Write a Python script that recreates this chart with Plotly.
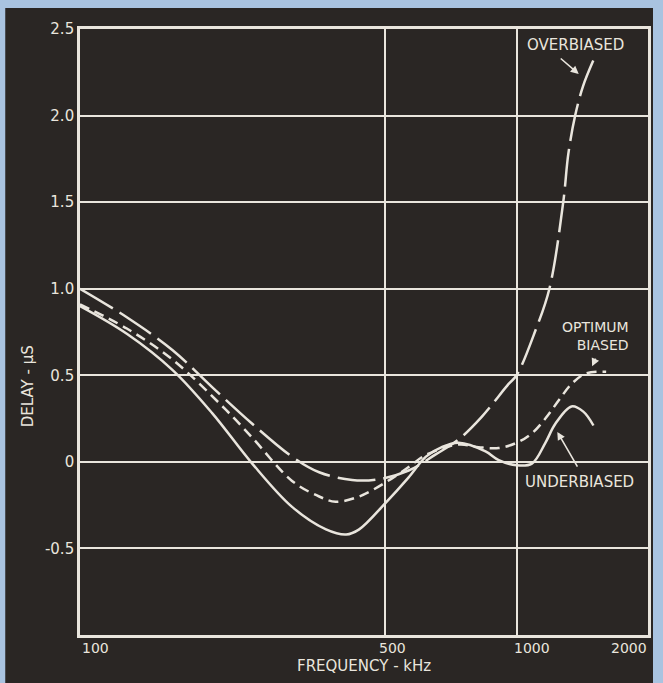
import math
import plotly.graph_objects as go

# ---------------- data ----------------
freq_under = [100, 128, 163, 201, 248, 306, 366, 407, 436, 500, 566, 620, 674, 737, 849, 910, 1000, 1084, 1164, 1227, 1336, 1422, 1500]
delay_under = [0.90, 0.74, 0.53, 0.28, -0.01, -0.26, -0.39, -0.42, -0.39, -0.24, -0.09, 0.03, 0.085, 0.11, 0.06, 0.01, -0.02, -0.01, 0.11, 0.22, 0.32, 0.29, 0.21]

freq_opt = [100, 128, 163, 216, 248, 306, 353, 385, 436, 500, 566, 620, 737, 819, 910, 1000, 1084, 1164, 1253, 1336, 1440, 1604]
delay_opt = [0.91, 0.77, 0.59, 0.30, 0.14, -0.11, -0.20, -0.23, -0.20, -0.12, -0.03, 0.04, 0.10, 0.085, 0.08, 0.11, 0.165, 0.25, 0.36, 0.45, 0.51, 0.52]

freq_over = [100, 128, 163, 201, 248, 306, 353, 420, 484, 566, 650, 737, 832, 959, 1000, 1105, 1189, 1279, 1314, 1362, 1420, 1500]
delay_over = [1.00, 0.835, 0.645, 0.43, 0.22, 0.03, -0.06, -0.105, -0.10, -0.05, 0.04, 0.13, 0.26, 0.45, 0.50, 0.76, 1.00, 1.50, 1.78, 2.00, 2.17, 2.32]

x_tick_vals = [100, 500, 1000, 2000]
x_tick_text = ["100", "500", "1000", "2000"]
y_tick_vals = [-0.5, 0, 0.5, 1.0, 1.5, 2.0, 2.5]
y_tick_text = ["-0.5", "0", "0.5", "1.0", "1.5", "2.0", "2.5"]

series_labels = ["UNDERBIASED", "OPTIMUM<br>BIASED", "OVERBIASED"]

# ---------------- style ----------------
FG = "#e9e5dd"
DARK = "#2a2624"
BLUE = "#a9c3e0"
FONT = "DejaVu Sans"

fig = go.Figure()
fig.add_trace(go.Scatter(x=freq_under, y=delay_under, mode="lines", name="UNDERBIASED",
                         line=dict(color=FG, width=2.5, shape="spline", smoothing=1.0)))
fig.add_trace(go.Scatter(x=freq_opt, y=delay_opt, mode="lines", name="OPTIMUM BIASED",
                         line=dict(color=FG, width=2.5, dash="10px,6px", shape="spline", smoothing=1.0)))
fig.add_trace(go.Scatter(x=freq_over, y=delay_over, mode="lines", name="OVERBIASED",
                         line=dict(color=FG, width=2.5, dash="38px,8px", shape="spline", smoothing=1.0)))

# dark panel behind plot
fig.add_shape(type="rect", xref="paper", yref="paper", x0=-0.1316, x1=1.0088, y0=-0.2, y1=1.0345,
              fillcolor=DARK, line=dict(width=0), layer="below")

annotations = []
# x tick labels
x_anchor = ["left", "center", "left", "right"]
x_shift = [0, 7, -5, 1]
for v, t, a, s in zip(x_tick_vals, x_tick_text, x_anchor, x_shift):
    annotations.append(dict(x=math.log10(v), y=0, xref="x", yref="paper", text=t, showarrow=False,
                            xanchor=a, yanchor="top", xshift=s, yshift=-3,
                            font=dict(family=FONT, size=14, color=FG)))
# axis titles
annotations.append(dict(x=0.5, y=0, xref="paper", yref="paper", text="FREQUENCY - kHz", showarrow=False,
                        xanchor="center", yanchor="middle", yshift=-31,
                        font=dict(family=FONT, size=15, color=FG)))
annotations.append(dict(x=-0.091, y=0.411, xref="paper", yref="paper", text="DELAY - μS", showarrow=False,
                        textangle=-90, xanchor="center", yanchor="middle",
                        font=dict(family=FONT, size=15, color=FG)))
# curve labels
annotations.append(dict(x=math.log10(1363), y=2.406, xref="x", yref="y", text=series_labels[2], showarrow=False,
                        xanchor="center", yanchor="middle", font=dict(family=FONT, size=15, color=FG)))
annotations.append(dict(x=math.log10(1830), y=0.725, xref="x", yref="y", text=series_labels[1], showarrow=False,
                        xanchor="right", yanchor="middle", align="right",
                        font=dict(family=FONT, size=14, color=FG)))
annotations.append(dict(x=math.log10(1392), y=-0.117, xref="x", yref="y", text=series_labels[0], showarrow=False,
                        xanchor="center", yanchor="middle", font=dict(family=FONT, size=15, color=FG)))
# pointer arrows
for (hx, hy, ax, ay) in [(1399, 2.233, -21, -18), (1483, 0.541, 5, -11), (1233, 0.183, 22, 38)]:
    annotations.append(dict(x=math.log10(hx), y=hy, xref="x", yref="y", text="", showarrow=True,
                            ax=ax, ay=ay, arrowhead=2, arrowsize=1, arrowwidth=1.6, arrowcolor=FG,
                            standoff=2))

fig.update_layout(
    width=663, height=683, autosize=False,
    margin=dict(l=80, r=13, t=29, b=48, pad=0),
    paper_bgcolor=BLUE, plot_bgcolor=DARK,
    showlegend=False,
    font=dict(family=FONT, color=FG, size=15),
    annotations=annotations,
)
fig.update_xaxes(type="log", range=[math.log10(100), math.log10(2000)],
                 tickvals=x_tick_vals, showticklabels=False, ticks="",
                 showgrid=True, gridcolor=FG, gridwidth=1.8,
                 showline=True, linecolor=FG, linewidth=2.6, mirror=True, zeroline=False)
fig.update_yaxes(range=[-1.0, 2.5], tickvals=y_tick_vals, ticktext=y_tick_text, ticks="",
                 tickfont=dict(family=FONT, size=15, color=FG),
                 showgrid=True, gridcolor=FG, gridwidth=1.8,
                 showline=True, linecolor=FG, linewidth=2.6, mirror=True, zeroline=False)

fig.write_html("out.html", config={"displayModeBar": False},
               post_script="document.body.style.margin='0';document.body.style.padding='0';document.body.style.overflow='hidden';")
